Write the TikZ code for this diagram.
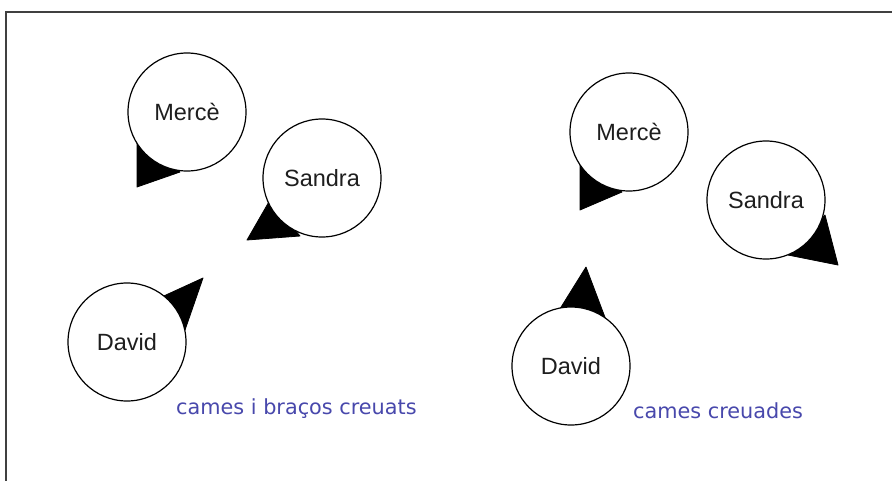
\documentclass[tikz,border=0pt]{standalone}
\usepackage{fontspec}
\setmainfont{Liberation Sans}
\newfontfamily\labelfont{DejaVu Sans}
\definecolor{framegray}{RGB}{64,64,64}
\definecolor{notecol}{RGB}{72,72,172}
\definecolor{namecol}{RGB}{30,30,30}
\begin{document}
\begin{tikzpicture}[x=1pt,y=-1pt,
  person/.style={circle,draw=black,line width=1.2pt,fill=white,minimum size=118pt,inner sep=0pt,
    text=namecol,font=\fontsize{23.5}{26}\selectfont},
  pointer/.style={fill=black,draw=black,line width=0.8pt,line join=round},
  note/.style={text=notecol,font=\labelfont\fontsize{20.8}{23}\selectfont,inner sep=0pt,anchor=base west}]
\useasboundingbox (0,0) rectangle (892,480);
\fill[white] (0,0) rectangle (892,480);
% frame (only top and left edges visible)
\draw[framegray,line width=2pt] (5.5,485) -- (5.5,11.5) -- (897,11.5);
% pointers (drawn under the circles)
\fill[pointer] (137,140) -- (137,187) -- (180,172) -- cycle;
\fill[pointer] (270,200) -- (247,240) -- (300,236) -- cycle;
\fill[pointer] (155,300) -- (203,278) -- (185,330) -- cycle;
\fill[pointer] (580,160) -- (580,210) -- (622,192) -- cycle;
\fill[pointer] (825,215) -- (838,265) -- (788,255) -- cycle;
\fill[pointer] (558,312) -- (586,267) -- (606,320) -- cycle;
% people, left group
\node[person] (m1) at (187,112) {Mercè};
\node[person] (s1) at (322,178) {Sandra};
\node[person] (d1) at (127,342) {David};
% people, right group
\node[person] (m2) at (629,132) {Mercè};
\node[person] (s2) at (766,200) {Sandra};
\node[person] (d2) at (571,366) {David};
% captions
\node[note] (t1) at (176,414) {cames i braços creuats};
\node[note] (t2) at (633,418) {cames creuades};
\end{tikzpicture}
\end{document}
